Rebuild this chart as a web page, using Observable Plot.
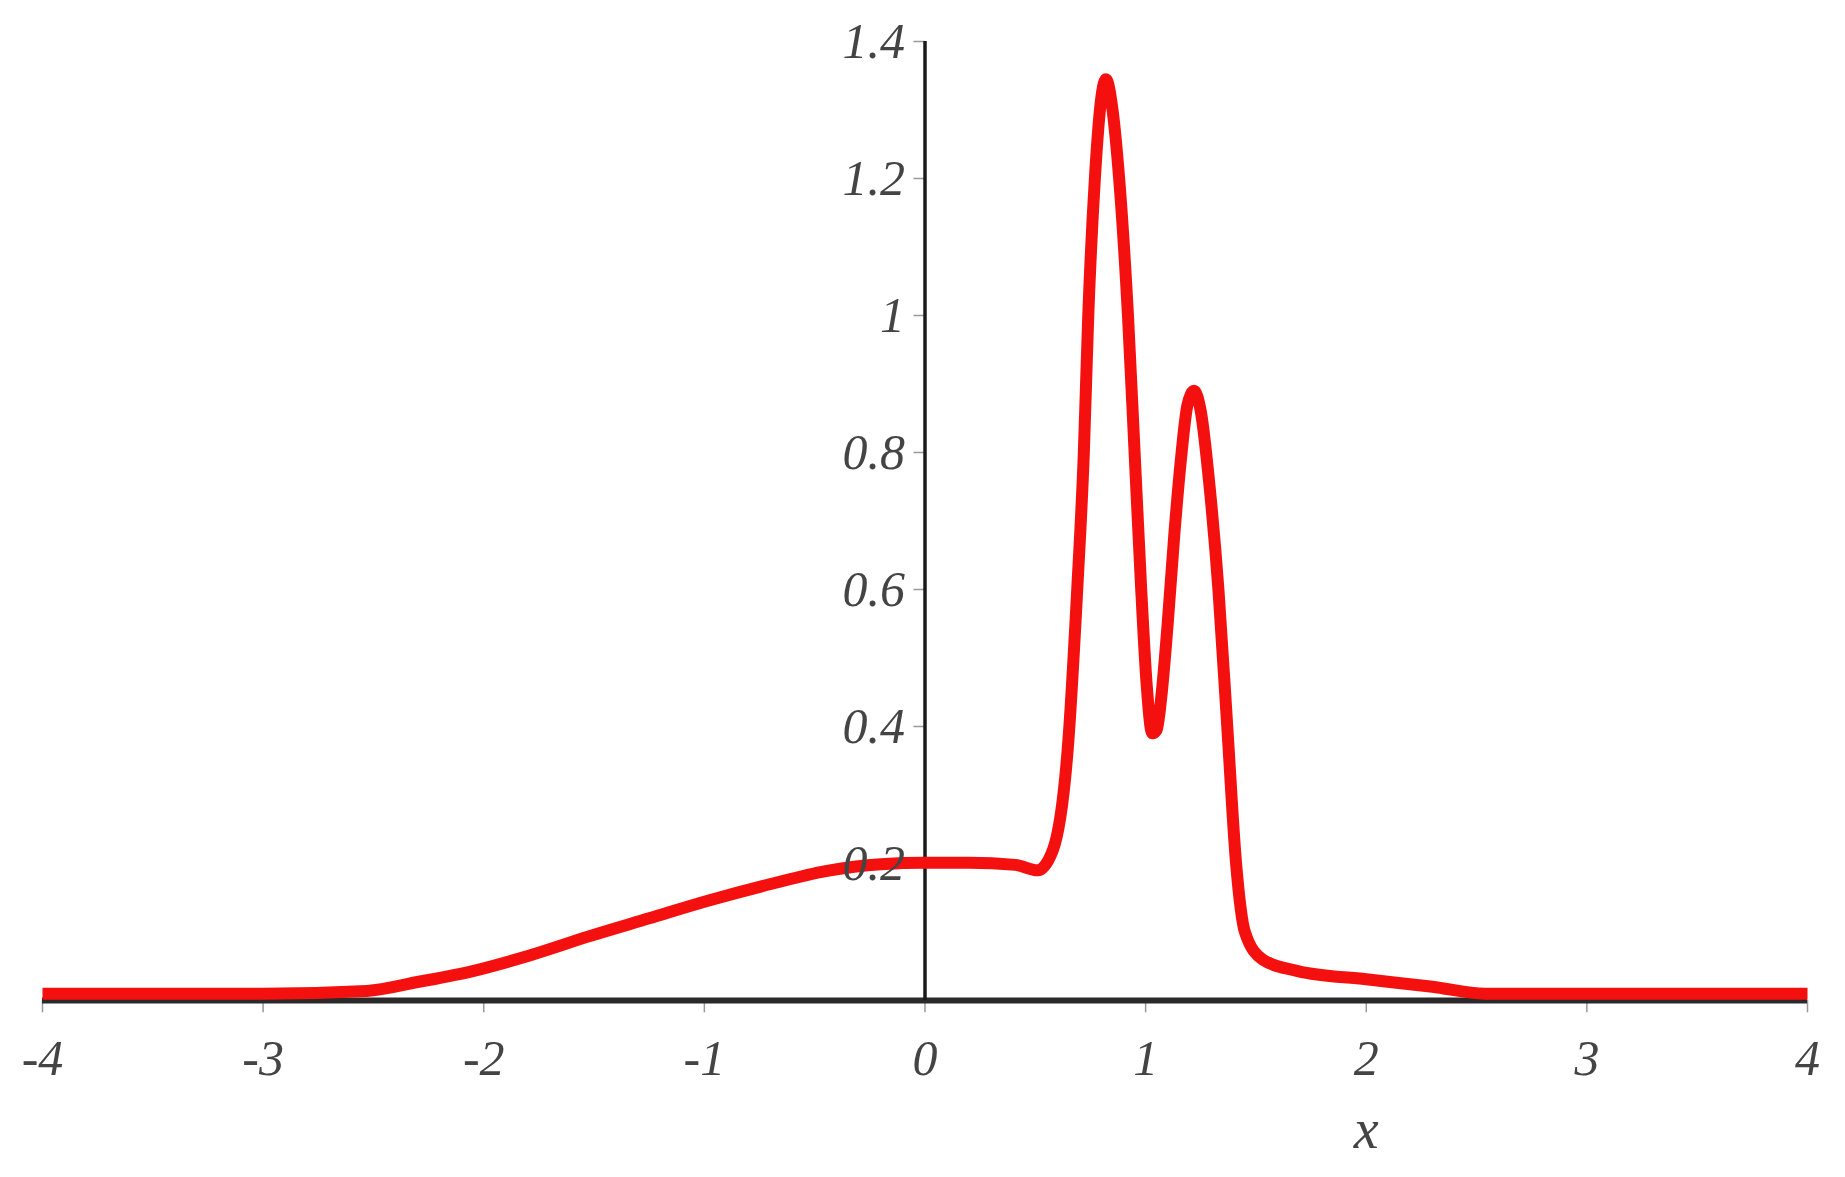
<!DOCTYPE html>
<html>
<head>
<meta charset="utf-8">
<script src="https://cdn.jsdelivr.net/npm/d3@7"></script>
<script src="https://cdn.jsdelivr.net/npm/@observablehq/plot@0.6"></script>
<style>
  html, body { margin: 0; padding: 0; background: #fff; }
  #chart { width: 1845px; height: 1177px; }
</style>
</head>
<body>
<div id="chart"></div>
<script>
// Curve samples
const xs = [-4, -3.5, -3, -2.53, -2.3, -2.05, -1.8, -1.52, -1.25, -0.98, -0.7, -0.45, -0.2, 0, 0.2, 0.41, 0.51, 0.58, 0.65, 0.69, 0.72, 0.74, 0.77, 0.80, 0.82, 0.85, 0.88, 0.92, 0.95, 0.98, 1.005, 1.03, 1.05, 1.07, 1.10, 1.13, 1.16, 1.19, 1.22, 1.25, 1.29, 1.33, 1.37, 1.41, 1.45, 1.53, 1.69, 2.0, 2.3, 2.54, 3, 3.5, 4];
const ys = [0.01, 0.01, 0.01, 0.014, 0.027, 0.043, 0.065, 0.094, 0.12, 0.146, 0.17, 0.189, 0.199, 0.201, 0.201, 0.198, 0.19, 0.22, 0.38, 0.6, 0.8, 1.0, 1.2, 1.32, 1.345, 1.3, 1.2, 1.0, 0.8, 0.6, 0.46, 0.39, 0.395, 0.44, 0.55, 0.68, 0.79, 0.87, 0.89, 0.86, 0.75, 0.6, 0.4, 0.2, 0.1, 0.06, 0.043, 0.031, 0.02, 0.01, 0.01, 0.01, 0.01];
const xTicks = [-4, -3, -2, -1, 0, 1, 2, 3, 4];
const xTickLabels = ["-4", "-3", "-2", "-1", "0", "1", "2", "3", "4"];
const yTicks = [0.2, 0.4, 0.6, 0.8, 1, 1.2, 1.4];
const yTickLabels = ["0.2", "0.4", "0.6", "0.8", "1", "1.2", "1.4"];
const xAxisLabel = "x";

const curve = xs.map((x, i) => ({x, y: ys[i]}));
const xT = xTicks.map((v, i) => ({v, label: xTickLabels[i]}));
const yT = yTicks.map((v, i) => ({v, label: yTickLabels[i]}));

const font = "Liberation Serif, Times New Roman, serif";

const chart = Plot.plot({
  width: 1845,
  height: 1177,
  marginLeft: 42,
  marginRight: 38,
  marginTop: 41,
  marginBottom: 177,
  x: {domain: [-4, 4], axis: null},
  y: {domain: [0, 1.4], axis: null},
  style: {background: "white"},
  marks: [
    // x tick marks
    Plot.ruleX(xT, {x: "v", y1: 0, y2: -0.018, stroke: "#999", strokeWidth: 1.5}),
    // y tick marks
    Plot.ruleY(yT, {y: "v", x1: -0.05, x2: 0, stroke: "#999", strokeWidth: 1.5}),
    // axes
    Plot.ruleY([0], {x1: -4, x2: 4, stroke: "#2a2a2a", strokeWidth: 6}),
    Plot.ruleX([0], {y1: 0, y2: 1.4, stroke: "#1a1a1a", strokeWidth: 3.5}),
    // curve
    Plot.line(curve, {x: "x", y: "y", stroke: "#f51010", strokeWidth: 12, curve: "monotone-x", strokeLinejoin: "round", strokeLinecap: "butt"}),
    // x tick labels
    Plot.text(xT, {x: "v", y: 0, text: "label", dy: 58, fontSize: 50, fontStyle: "italic", fontWeight: "normal", fontFamily: font, fill: "#444"}),
    // y tick labels
    Plot.text(yT, {x: 0, y: "v", text: "label", dx: -20, textAnchor: "end", fontSize: 50, fontStyle: "italic", fontWeight: "normal", fontFamily: font, fill: "#444"}),
    // x axis label
    Plot.text([xAxisLabel], {x: 2, y: 0, text: d => d, dy: 130, fontSize: 56, fontStyle: "italic", fontWeight: "normal", fontFamily: font, fill: "#444"})
  ]
});
document.getElementById("chart").appendChild(chart);
</script>
</body>
</html>
